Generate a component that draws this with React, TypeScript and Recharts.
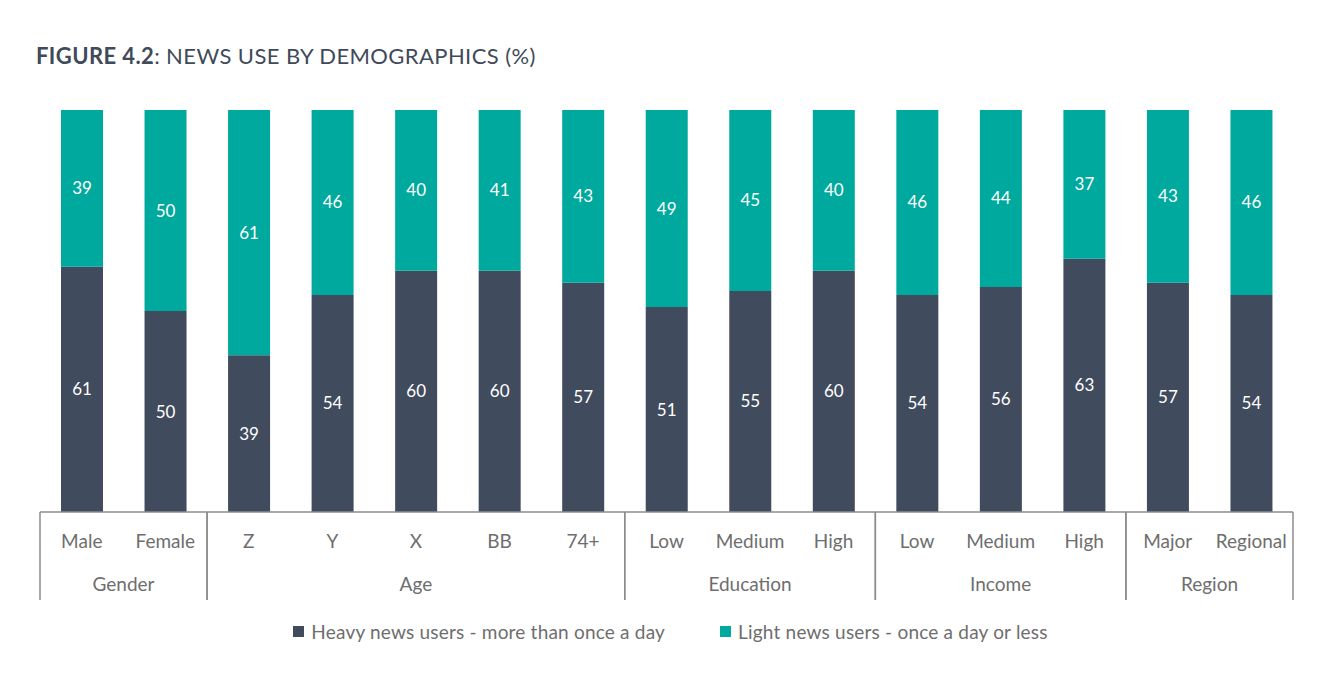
import { BarChart, Bar, XAxis, YAxis, Legend, LabelList } from 'recharts';

const categories = ['Male', 'Female', 'Z', 'Y', 'X', 'BB', '74+', 'Low', 'Medium', 'High', 'Low', 'Medium', 'High', 'Major', 'Regional'];
const groups = ['Gender', 'Gender', 'Age', 'Age', 'Age', 'Age', 'Age', 'Education', 'Education', 'Education', 'Income', 'Income', 'Income', 'Region', 'Region'];
const heavy = [61, 50, 39, 54, 60, 60, 57, 51, 55, 60, 54, 56, 63, 57, 54];
const light = [39, 50, 61, 46, 40, 41, 43, 49, 45, 40, 46, 44, 37, 43, 46];

const data = categories.map((name, i) => ({ name, group: groups[i], heavy: heavy[i], light: light[i] }));

const W = 1327;
const H = 664;
const ML = 32;
const MR = 42;
const band = (W - ML - MR) / categories.length;

const DARK = '#404b5e';
const TEAL = '#00a99d';
const FONT = 'Lato, "Open Sans", sans-serif';
const GREY = '#6e6e6e';
const LINE = '#8c8c8c';

function GroupTick(props: any) {
  const { x, y, payload } = props;
  const i = payload.index;
  const g = groups[i];
  const first = i === 0 || groups[i - 1] !== g;
  const last = i === groups.length - 1 || groups[i + 1] !== g;
  const count = groups.filter((v) => v === g).length;
  return (
    <g>
      <text x={x} y={y + 36} textAnchor="middle" fill={GREY} fontSize={19} fontFamily={FONT}>
        {payload.value}
      </text>
      {first && <line x1={x - band / 2} x2={x - band / 2} y1={y} y2={y + 88} stroke={LINE} strokeWidth={1.5} />}
      {last && <line x1={x + band / 2} x2={x + band / 2} y1={y} y2={y + 88} stroke={LINE} strokeWidth={1.5} />}
      {first && (
        <text x={x + ((count - 1) * band) / 2} y={y + 79} textAnchor="middle" fill={GREY} fontSize={19} fontFamily={FONT}>
          {g}
        </text>
      )}
    </g>
  );
}

function LegendContent() {
  const items = [
    { label: 'Heavy news users - more than once a day', color: DARK },
    { label: 'Light news users - once a day or less', color: TEAL },
  ];
  return (
    <div
      style={{
        height: 40,
        display: 'flex',
        justifyContent: 'center',
        alignItems: 'center',
        gap: 55,
        fontFamily: FONT,
        fontSize: 19,
        color: GREY,
        transform: 'translate(4px, 3px)',
      }}
    >
      {items.map((it) => (
        <div key={it.label} style={{ display: 'flex', alignItems: 'center', letterSpacing: 0.2 }}>
          <span style={{ display: 'inline-block', width: 11, height: 11, background: it.color, marginRight: 7 }} />
          {it.label}
        </div>
      ))}
    </div>
  );
}

export default function App() {
  return (
    <div style={{ position: 'relative', width: W, height: H, background: '#fff' }}>
      <div
        style={{
          position: 'absolute',
          left: 28,
          top: 37,
          fontFamily: FONT,
          fontSize: 22,
          lineHeight: '22px',
          letterSpacing: 0.4,
          color: '#3f4a5a',
          whiteSpace: 'nowrap',
        }}
      >
        <span style={{ fontWeight: 700 }}>FIGURE 4.2</span>: NEWS USE BY DEMOGRAPHICS (%)
      </div>
      <BarChart width={W} height={H} data={data} margin={{ top: 102, right: MR, bottom: 24, left: ML }} barSize={42}>
        <XAxis
          dataKey="name"
          interval={0}
          tickLine={false}
          tickSize={0}
          tickMargin={0}
          height={96}
          axisLine={{ stroke: LINE, strokeWidth: 1.5 }}
          tick={<GroupTick />}
        />
        <YAxis hide domain={[0, 100]} allowDataOverflow />
        <Legend verticalAlign="bottom" content={<LegendContent />} />
        <Bar dataKey="heavy" stackId="a" fill={DARK} isAnimationActive={false}>
          <LabelList dataKey="heavy" position="center" fill="#fff" fontSize={17} fontFamily={FONT} />
        </Bar>
        <Bar dataKey="light" stackId="a" fill={TEAL} isAnimationActive={false}>
          <LabelList dataKey="light" position="center" fill="#fff" fontSize={17} fontFamily={FONT} />
        </Bar>
      </BarChart>
    </div>
  );
}
